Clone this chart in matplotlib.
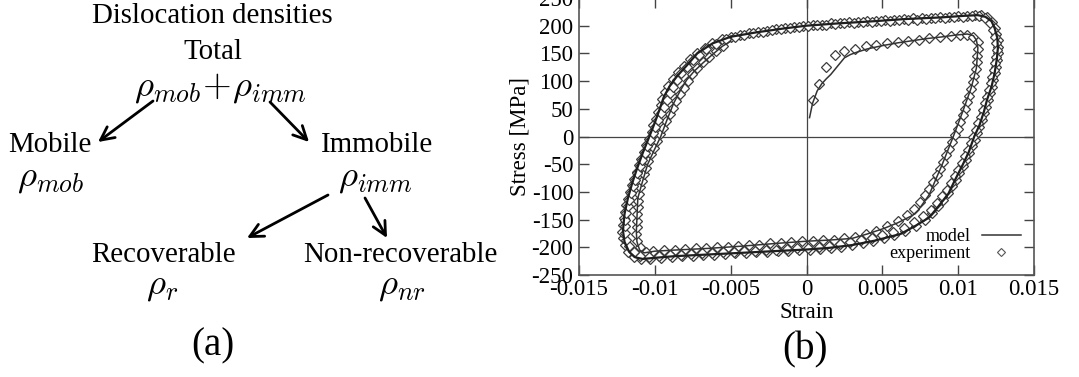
import numpy as np
import matplotlib
matplotlib.use('Agg')
import matplotlib.pyplot as plt
from matplotlib.lines import Line2D

plt.rcParams['font.family'] = ['Liberation Serif', 'DejaVu Serif']
plt.rcParams['mathtext.fontset'] = 'cm'
plt.rcParams['axes.unicode_minus'] = False

# ---- data ----
x_ticks = [-0.015, -0.01, -0.005, 0, 0.005, 0.01, 0.015]
x_tick_labels = ['-0.015', '-0.01', '-0.005', '0', '0.005', '0.01', '0.015']
y_ticks = [-250, -200, -150, -100, -50, 0, 50, 100, 150, 200, 250]
y_tick_labels = [str(v) for v in y_ticks]

# model: first loading + first cycle
model1_x = [0.0002, 0.0004, 0.0007, 0.0010, 0.0013, 0.0016, 0.0019, 0.0022, 0.0025, 0.0029,
            0.0033, 0.0040, 0.0050, 0.0060, 0.0070, 0.0080, 0.0090, 0.0098, 0.0106, 0.0110,
            0.0112, 0.0113, 0.01125, 0.0112, 0.01085, 0.0103, 0.00968, 0.00894, 0.00809, 0.0074,
            0.00702, 0.0060, 0.0051, 0.0040, 0.0030, 0.0015, 0.0, -0.0020, -0.0043, -0.0065,
            -0.0087, -0.0100, -0.0107, -0.0110, -0.01118, -0.01122, -0.01112, -0.0108, -0.01047, -0.01005,
            -0.00961, -0.0092, -0.00876, -0.0083, -0.0079, -0.0074, -0.00682, -0.0062, -0.00554, -0.0050]
model1_y = [34, 60, 82, 95, 104, 112, 122, 132, 142, 148,
            152, 158, 164, 169, 173, 177, 180, 183, 185, 182,
            174, 160, 140, 123, 87, 45, 0, -51, -105, -132,
            -142, -156, -166, -176, -184, -187, -189, -193, -198, -202,
            -205, -207, -210, -205, -190, -172, -111, -80, -50, -25,
            0, 30, 60, 84, 102, 118, 133, 148, 163, 172]

# model: stabilised loop
model2_x = [-0.0050, -0.0033, -0.0015, 0.0, 0.0020, 0.0044, 0.0065, 0.0089, 0.0105, 0.0113,
            0.0118, 0.0122, 0.0124, 0.01258, 0.01262, 0.01255, 0.0124, 0.0122, 0.0119, 0.0117,
            0.0114, 0.01106, 0.0107, 0.0103, 0.0098, 0.00936, 0.0087, 0.0081, 0.0072, 0.0062,
            0.0045, 0.0030, 0.0015, 0.0, -0.0022, -0.0043, -0.0065, -0.0087, -0.0100, -0.0108,
            -0.0113, -0.0117, -0.0120, -0.0121, -0.0120, -0.01178, -0.0115, -0.0112, -0.0108, -0.01036,
            -0.0100, -0.0097, -0.0094, -0.0090, -0.0085, -0.0079, -0.0072, -0.0062, -0.0050]
model2_y = [180, 188, 195, 200, 204, 208, 212, 215, 218, 219,
            216, 208, 196, 178, 160, 140, 114, 90, 66, 45,
            20, 0, -28, -51, -78, -103, -126, -146, -161, -176,
            -188, -196, -201, -204, -207, -210, -213, -216, -219, -221,
            -218, -208, -190, -170, -140, -112, -85, -60, -30, 0,
            25, 48, 72, 92, 110, 128, 150, 168, 180]

# experiment: first loading + first cycle
exp1_x = [0.0004, 0.0008, 0.0013, 0.0019, 0.0025, 0.0032, 0.0039, 0.0046, 0.0053, 0.0060,
          0.0067, 0.0074, 0.0081, 0.0088, 0.0095, 0.0101, 0.0106, 0.0110,
          0.01128, 0.0113, 0.01127, 0.01122, 0.01115, 0.01107, 0.01097, 0.01086, 0.01074, 0.0106,
          0.01045, 0.0103, 0.01013, 0.00996, 0.00978, 0.0096, 0.00942, 0.00922, 0.00902, 0.0088,
          0.00858, 0.00834, 0.00808, 0.0078, 0.0075, 0.0071, 0.0066, 0.0060, 0.0053, 0.0046,
          0.0039, 0.0032, 0.0025, 0.0018, 0.0011, 0.0004, -0.0003, -0.0010, -0.0017, -0.0024,
          -0.0031, -0.0038, -0.0045, -0.0052, -0.0059, -0.0066, -0.0073, -0.0080, -0.0087, -0.0094,
          -0.0101, -0.0106,
          -0.0110, -0.01118, -0.01122, -0.0112, -0.01118, -0.01116, -0.01114, -0.01112, -0.01105, -0.01096,
          -0.01085, -0.01072, -0.01058, -0.01042, -0.01025, -0.01006, -0.00986, -0.00966, -0.00945, -0.00924,
          -0.00902, -0.0088, -0.00858, -0.00835, -0.0081, -0.00784, -0.00755, -0.00722, -0.00685, -0.00645,
          -0.006, -0.0055]
exp1_y = [65, 95, 126, 148, 154, 158, 163, 166, 169, 171,
          173, 175, 177, 179, 181, 183, 184, 180,
          170, 158, 146, 134, 122, 110, 98, 86, 74, 62,
          50, 38, 26, 14, 2, -10, -22, -34, -46, -58,
          -70, -82, -94, -106, -118, -130, -142, -152, -162, -170,
          -176, -181, -184, -186, -187, -188, -189, -190, -192, -193,
          -195, -196, -198, -199, -200, -201, -202, -203, -204, -205,
          -206, -208,
          -200, -188, -176, -164, -152, -140, -128, -116, -104, -92,
          -80, -68, -56, -44, -32, -20, -8, 4, 16, 28,
          40, 52, 64, 76, 88, 100, 112, 124, 134, 144,
          154, 163]

# experiment: stabilised cycles
exp2_x = [-0.0050, -0.0044, -0.0038, -0.0032, -0.0026, -0.0020, -0.0014, -0.0008, -0.0002, 0.0004,
          0.0010, 0.0016, 0.0022, 0.0028, 0.0034, 0.0040, 0.0046, 0.0052, 0.0058, 0.0064,
          0.0070, 0.0076, 0.0082, 0.0088, 0.0094, 0.0100, 0.0106, 0.0111,
          0.0115, 0.0119, 0.0122, 0.0124, 0.0125, 0.01262, 0.01265, 0.01262, 0.01255, 0.01248,
          0.0124, 0.0123, 0.0122, 0.01208, 0.01196, 0.01183, 0.0117, 0.01155, 0.0114, 0.01124,
          0.01108, 0.0109, 0.01072, 0.01052, 0.0103, 0.01008, 0.00985, 0.0096, 0.00933, 0.00903,
          0.0087, 0.0083, 0.0078, 0.0072, 0.0065, 0.0058, 0.0051, 0.0044, 0.0037, 0.0030,
          0.0023, 0.0016, 0.0009, 0.0002, -0.0005, -0.0012, -0.0019, -0.0026, -0.0033, -0.0040,
          -0.0047, -0.0054, -0.0061, -0.0068, -0.0075, -0.0082, -0.0089, -0.0096, -0.0103, -0.0109,
          -0.0114, -0.0118, -0.0120, -0.0121, -0.01215, -0.0121, -0.01205, -0.0120, -0.0119, -0.01178,
          -0.01165, -0.0115, -0.01135, -0.0112, -0.01105, -0.0109, -0.01073, -0.01055, -0.01037, -0.0102,
          -0.0101, -0.00995, -0.0098, -0.0096, -0.0095, -0.0093, -0.0091, -0.0088, -0.0085, -0.0081,
          -0.0077, -0.0072, -0.0067, -0.0062, -0.0056]
exp2_y = [180, 183, 186, 188, 191, 194, 196, 198, 200, 201,
          202, 204, 205, 206, 207, 208, 209, 210, 211, 212,
          213, 213, 214, 215, 216, 217, 218, 219,
          219, 215, 207, 196, 185, 174, 162, 150, 138, 126,
          114, 102, 90, 78, 66, 54, 42, 30, 18, 6,
          -6, -18, -30, -42, -54, -66, -78, -90, -102, -114,
          -126, -138, -150, -161, -170, -177, -183, -188, -192, -196,
          -199, -201, -203, -204, -205, -206, -207, -208, -209, -210,
          -211, -212, -213, -214, -215, -216, -218, -219, -221, -222,
          -218, -208, -196, -184, -172, -160, -148, -136, -124, -112,
          -100, -88, -76, -64, -52, -40, -28, -16, -4, 8,
          20, 32, 44, 56, 68, 80, 92, 104, 116, 128,
          140, 150, 160, 168, 176]

exp3_x = [-0.0053, -0.0047, -0.0041, -0.0035, -0.0029, -0.0023, -0.0017, -0.0011, -0.0005, 0.0001,
          0.0007, 0.0013, 0.0019, 0.0025, 0.0031, 0.0037, 0.0043, 0.0049, 0.0055, 0.0061,
          0.0067, 0.0073, 0.0079, 0.0085, 0.0091, 0.0097, 0.0103, 0.0109,
          0.0114, 0.0118, 0.0121, 0.0123, 0.01245, 0.01252, 0.01255, 0.0125, 0.01243, 0.01235,
          0.01225, 0.01215, 0.01203, 0.0119, 0.01177, 0.01163, 0.01148, 0.01133, 0.01117, 0.011,
          0.01082, 0.01063, 0.01043, 0.01022, 0.01, 0.00977, 0.00952, 0.00925, 0.00895, 0.0086,
          0.0082, 0.0077, 0.0071, 0.0064, 0.0057, 0.005, 0.0043, 0.0036, 0.0029, 0.0022,
          0.0015, 0.0008, 0.0001, -0.0006, -0.0013, -0.002, -0.0027, -0.0034, -0.0041, -0.0048,
          -0.0055, -0.0062, -0.0069, -0.0076, -0.0083, -0.009, -0.0097, -0.0104, -0.011, -0.0114,
          -0.0117, -0.0119, -0.012, -0.012, -0.01195, -0.0119, -0.0118, -0.0117, -0.01158, -0.01144,
          -0.0113, -0.01115, -0.011, -0.01084, -0.01067, -0.0105, -0.01032, -0.01014, -0.00996, -0.00978,
          -0.0096, -0.00942, -0.00923, -0.00903, -0.0088, -0.00855, -0.00825, -0.0079, -0.0075, -0.0071,
          -0.0066, -0.006]
exp3_y = [176, 180, 183, 186, 189, 192, 194, 196, 198, 199,
          201, 202, 203, 204, 205, 206, 207, 208, 209, 210,
          211, 211, 212, 213, 214, 215, 216, 217,
          218, 213, 204, 192, 180, 168, 156, 144, 132, 120,
          108, 96, 84, 72, 60, 48, 36, 24, 12, 0,
          -12, -24, -36, -48, -60, -72, -84, -96, -108, -120,
          -132, -144, -155, -165, -172, -178, -183, -187, -191, -194,
          -197, -199, -201, -202, -203, -204, -205, -206, -207, -208,
          -209, -210, -211, -212, -213, -214, -215, -217, -216, -208,
          -198, -186, -174, -162, -150, -138, -126, -114, -102, -90,
          -78, -66, -54, -42, -30, -18, -6, 6, 18, 30,
          42, 54, 66, 78, 90, 102, 114, 126, 138, 148,
          158, 167]

W, H = 1079, 377
fig = plt.figure(figsize=(W / 100, H / 100), dpi=100)

# ---- (a) diagram, drawn in a full-figure pixel frame ----
ad = fig.add_axes([0, 0, 1, 1])
ad.set_xlim(0, W)
ad.set_ylim(H, 0)
ad.axis('off')

word = 20.8
mth = 26.5
ad.text(212, 16, 'Dislocation densities', fontsize=word, ha='center', va='center')
ad.text(213, 52, 'Total', fontsize=word, ha='center', va='center')
ad.text(220, 88, r'$\rho_{mob}\!+\!\rho_{imm}$', fontsize=mth, ha='center', va='center')
ad.text(50, 145, 'Mobile', fontsize=word, ha='center', va='center')
ad.text(50, 178, r'$\rho_{mob}$', fontsize=mth, ha='center', va='center')
ad.text(377, 145, 'Immobile', fontsize=word, ha='center', va='center')
ad.text(375, 178, r'$\rho_{imm}$', fontsize=mth, ha='center', va='center')
ad.text(163, 255, 'Recoverable', fontsize=word, ha='center', va='center')
ad.text(162, 286, r'$\rho_r$', fontsize=mth, ha='center', va='center')
ad.text(400, 255, 'Non-recoverable', fontsize=word, ha='center', va='center')
ad.text(402, 286, r'$\rho_{nr}$', fontsize=mth, ha='center', va='center')
ad.text(213, 346, '(a)', fontsize=28, ha='center', va='center')
ad.text(805, 350, '(b)', fontsize=28, ha='center', va='center')

arrows = [((153, 101), (98, 142)), ((270, 102), (309, 142)),
          ((328, 195), (247, 238)), ((365, 198), (387, 238))]
for start, end in arrows:
    ad.annotate('', xy=end, xytext=start,
                arrowprops=dict(arrowstyle='->', lw=2.0, color='black', mutation_scale=24,
                                shrinkA=0, shrinkB=0))

# ---- (b) hysteresis plot ----
ax = fig.add_axes([579 / W, 1 - 275 / H, (1034 - 579) / W, 277 / H])
ax.axhline(0, color='#444444', lw=0.9, zorder=1)
ax.axvline(0, color='#444444', lw=0.9, zorder=1)

mk = dict(ls='none', marker='D', ms=5.2, mfc='white', mec='#3c3c3c', mew=0.9, zorder=3)
ax.plot(exp1_x, exp1_y, **mk)
ax.plot(exp2_x, exp2_y, **mk)
ax.plot(exp3_x, exp3_y, **mk)
ax.plot(model1_x, model1_y, color='#333333', lw=1.1, zorder=4)
ax.plot(model2_x, model2_y, color='#1e1e1e', lw=1.6, zorder=4)

ax.set_xlim(-0.015, 0.015)
ax.set_ylim(-250, 250)
ax.set_xticks(x_ticks)
ax.set_xticklabels(x_tick_labels)
ax.set_yticks(y_ticks)
ax.set_yticklabels(y_tick_labels)
ax.tick_params(direction='in', top=True, right=True, length=7, width=1,
               color='#444444', labelsize=16.5, pad=4)
ax.tick_params(axis='x', pad=3)
for sp in ax.spines.values():
    sp.set_color('#555555')
    sp.set_linewidth(1.2)
ax.set_xlabel('Strain', fontsize=16.5, labelpad=1)
ax.set_ylabel('Stress [MPa]', fontsize=16.5, labelpad=1)

handles = [Line2D([], [], color='#333333', lw=1.1),
           Line2D([], [], ls='none', marker='D', ms=4.2, mfc='white', mec='#555555', mew=0.8)]
ax.legend(handles, ['model', 'experiment'], loc='lower right', frameon=False,
          markerfirst=False, fontsize=13, handlelength=2.2, handletextpad=0.6,
          labelspacing=0.0, borderaxespad=0.3, bbox_to_anchor=(1.0, 0.0))

fig.savefig('out.png', dpi=100)
